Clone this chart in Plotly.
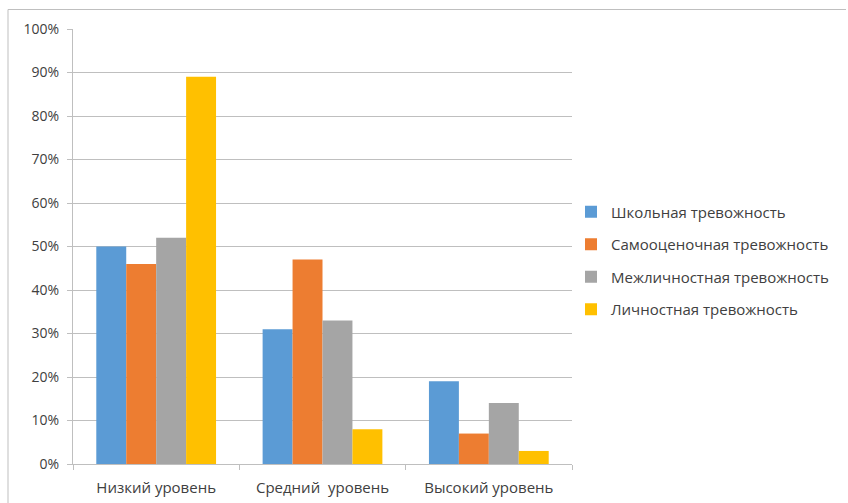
import plotly.graph_objects as go

categories = ["Низкий уровень", "Средний  уровень", "Высокий уровень"]
series_names = ["Школьная тревожность", "Самооценочная тревожность",
                "Межличностная тревожность", "Личностная тревожность"]
school = [0.50, 0.31, 0.19]
selfeval = [0.46, 0.47, 0.07]
interpers = [0.52, 0.33, 0.14]
personal = [0.89, 0.08, 0.03]
colors = ["#5B9BD5", "#ED7D31", "#A5A5A5", "#FFC000"]
y_ticks = [i / 10 for i in range(11)]

W, H = 848, 503
L, R, T, B = 73, 572, 29, 464

fig = go.Figure()
for i, (name, vals, c) in enumerate(zip(series_names, [school, selfeval, interpers, personal], colors)):
    fig.add_trace(go.Bar(x=categories, y=vals, name=name, legendgroup=f"g{i}",
                         marker=dict(color=c, line=dict(width=0))))

fig.update_layout(
    width=W, height=H,
    margin=dict(l=L, r=W - R, t=T, b=H - B, pad=0, autoexpand=False),
    paper_bgcolor="white", plot_bgcolor="white",
    barmode="group", bargap=0.28, bargroupgap=0,
    font=dict(family="Open Sans, DejaVu Sans, sans-serif", size=12, color="#404040"),
    legend=dict(x=0.998, y=0.468, xanchor="left", yanchor="middle",
                font=dict(size=15, color="#404040"), tracegroupgap=10,
                itemwidth=30, bgcolor="rgba(0,0,0,0)"),
    showlegend=True,
)
fig.update_yaxes(range=[0, 1.0], tickvals=y_ticks, tickformat=".0%", automargin=False,
                 showgrid=True, gridcolor="#BFBFBF", gridwidth=1,
                 showline=True, linecolor="#BFBFBF", linewidth=1,
                 ticks="outside", ticklen=5, tickcolor="#BFBFBF", ticklabelstandoff=5,
                 tickfont=dict(size=14, color="#404040"), zeroline=False)
fig.update_xaxes(showline=True, linecolor="#BFBFBF", linewidth=1, automargin=False,
                 ticks="outside", ticklen=5, tickcolor="#BFBFBF", tickson="boundaries",
                 ticklabelstandoff=10,
                 tickfont=dict(size=15, color="#404040"))

# outer chart border (top and left visible in reference)
px0 = (8 - L) / (R - L)
py0 = (B - 9.5) / (B - T)
fig.add_shape(type="path", xref="paper", yref="paper",
              path=f"M {px0} {(B - 503) / (B - T)} L {px0} {py0} L {(846 - L) / (R - L)} {py0}",
              line=dict(color="#BFBFBF", width=1))

fig.write_html("out.html")
